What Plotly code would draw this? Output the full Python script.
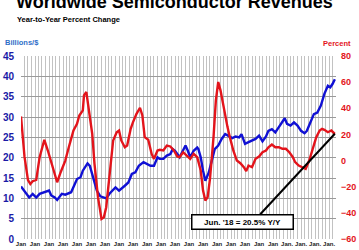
import plotly.graph_objects as go

# ---------------- data ----------------
pct_dates = ["1996-01","1996-04","1996-07","1996-09","1996-11","1997-02","1997-05","1997-09","1997-12",
             "1998-03","1998-06","1998-08","1998-11","1999-03","1999-06","1999-10","2000-01","2000-03",
             "2000-06","2000-07","2000-09","2000-11","2001-02","2001-04","2001-07","2001-10","2001-12",
             "2002-02","2002-05","2002-08","2002-11","2003-01","2003-03","2003-06","2003-08","2003-11",
             "2004-01","2004-04","2004-07","2004-09","2004-11","2005-02","2005-05","2005-07","2005-10",
             "2005-12","2006-03","2006-06","2006-09","2006-12","2007-03","2007-05","2007-08","2007-11",
             "2008-02","2008-05","2008-08","2008-11","2009-01","2009-03","2009-05","2009-07","2009-10",
             "2009-12","2010-02","2010-04","2010-07","2010-10","2010-12","2011-03","2011-06","2011-09",
             "2011-12","2012-02","2012-04","2012-07","2012-10","2013-01","2013-04","2013-07","2013-09",
             "2013-12","2014-03","2014-06","2014-09","2014-12","2015-03","2015-06","2015-08","2015-11",
             "2016-02","2016-05","2016-08","2016-11","2017-02","2017-05","2017-07","2017-09","2017-12",
             "2018-03","2018-06"]
pct_values = [33.8, 3, -15, -17.9, -15.8, -14.8, 2.6, 15.9, 7.7,
              -1.2, -10.2, -16.6, -8.9, 0, 10.2, 23, 28.1, 34.5,
              38.4, 49.9, 52.4, 38.4, 20.5, -2.5, -28, -44.7, -43.4,
              -35.7, -10.2, 15.4, 21.7, 23, 15.4, 10.2, 11.5, 24.3,
              29.4, 35.8, 40.4, 34.5, 17.9, 15.9, 5.1, 1.3, 7.7,
              8.2, 7.7, 11.5, 10.8, 7.7, 3.1, 2.6, 6.4, 3.9,
              1.3, 5.1, 2.6, -7.6, -23, -30.6, -28, -14, 17.9,
              46, 60.1, 53.7, 38.4, 25.6, 17.9, 7.7, 0, -2,
              -5.1, -8.1, -3.8, -5.1, 1.3, 3.1, 6.4, 7.7, 10.2,
              12.3, 10.2, 10.2, 9, 9, 6.4, 2.6, -1.2, -3.8,
              -5.1, -6.4, 0, 9, 17.9, 23, 24.3, 23.5, 21.7,
              23, 20.5]

rev_dates = ["1996-01","1996-05","1996-08","1996-11","1997-02","1997-05","1997-09","1998-01","1998-03",
             "1998-06","1998-08","1998-12","1999-03","1999-05","1999-08","2000-01","2000-04","2000-06",
             "2000-10","2000-12","2001-03","2001-06","2001-09","2001-12","2002-02","2002-05","2002-10",
             "2003-01","2003-03","2003-06","2003-09","2003-12","2004-03","2004-06","2004-10","2005-01",
             "2005-04","2005-07","2005-10","2005-12","2006-03","2006-06","2006-09","2006-11","2007-01",
             "2007-05","2007-07","2007-10","2007-12","2008-02","2008-05","2008-08","2008-09","2008-11",
             "2009-01","2009-03","2009-06","2009-09","2009-11","2010-02","2010-05","2010-08","2010-11",
             "2011-02","2011-05","2011-08","2011-10","2012-01","2012-04","2012-07","2012-10","2013-01",
             "2013-04","2013-07","2013-09","2013-12","2014-03","2014-06","2014-09","2014-11","2015-01",
             "2015-04","2015-07","2015-10","2016-01","2016-04","2016-06","2016-09","2016-12","2017-03",
             "2017-06","2017-09","2017-12","2018-02","2018-04","2018-06"]
rev_values = [12.9, 11.5, 10.2, 11.1, 10.2, 11.1, 11.5, 11.9, 10.7,
              10.2, 9.6, 11.1, 10.9, 11.1, 11.5, 14.75, 15.2, 16.8,
              18.6, 18.0, 15.2, 11.9, 10.5, 10.2, 10.0, 11.2, 12.7,
              11.9, 12.3, 13.1, 13.9, 16.0, 16.4, 18.0, 18.9, 18.4,
              18.0, 18.0, 20.1, 19.7, 19.7, 20.5, 20.9, 22.1, 21.7,
              20.1, 21.3, 23.0, 21.7, 20.1, 21.7, 22.5, 22.1, 20.1,
              16.8, 14.3, 16.4, 19.7, 22.1, 23.0, 24.6, 25.8, 25.2,
              24.8, 25.2, 25.0, 25.8, 23.4, 23.8, 24.2, 24.6, 25.4,
              24.0, 25.2, 26.6, 27.0, 26.2, 27.5, 28.7, 29.7, 28.3,
              27.9, 28.7, 27.9, 26.6, 26.0, 26.6, 28.7, 30.7, 31.1,
              32.8, 35.7, 37.7, 37.3, 38.1, 39.3]

years = list(range(1996, 2019))
year_labels = ["Jan"] * 19 + ["Jan."] * 4
callout_text = "Jun. '18 = 20.5% Y/Y"

# ---------------- styling ----------------
RED = "#e3141b"
BLUE = "#1010d4"
FONT = "Liberation Sans, Arial, sans-serif"

tickvals, ticktext = [], []
for yr, lab in zip(years, year_labels):
    for q, mon in enumerate(["01", "04", "07", "10"]):
        tickvals.append(f"{yr}-{mon}-01")
        ticktext.append(lab if q == 0 else "")

fig = go.Figure()
fig.add_trace(go.Scatter(x=pct_dates, y=pct_values, yaxis="y2", mode="lines",
                         line=dict(color=RED, width=2.4), showlegend=False, hoverinfo="skip"))
fig.add_trace(go.Scatter(x=rev_dates, y=rev_values, mode="lines",
                         line=dict(color=BLUE, width=2.4), showlegend=False, hoverinfo="skip"))

fig.update_layout(
    width=359, height=250,
    margin=dict(l=21, r=23, t=56, b=11, pad=0),
    paper_bgcolor="white", plot_bgcolor="white",
    font=dict(family=FONT),
    xaxis=dict(type="date", range=["1996-01-01", "2018-07-01"], tickmode="array",
               tickvals=tickvals, ticktext=ticktext, tickangle=0,
               showgrid=True, gridcolor="#c2c2c2", gridwidth=1, zeroline=False,
               ticks="", automargin=False, showline=False,
               tickfont=dict(size=6, color="#222222", family=FONT, weight="bold")),
    yaxis=dict(range=[0, 45], dtick=5, showgrid=True, gridcolor="#9a9a9a", gridwidth=1,
               zeroline=False, ticks="", automargin=False, ticklabelstandoff=6,
               tickfont=dict(size=10, color="#1a1aa6", family=FONT, weight="bold")),
    yaxis2=dict(range=[-60, 80], dtick=20, overlaying="y", side="right", showgrid=False,
                zeroline=False, ticks="", automargin=False, ticklabelstandoff=4,
                tickfont=dict(size=9, color=RED, family=FONT, weight="bold")),
)

ann = []
ann.append(dict(text="Worldwide Semiconductor Revenues", xref="paper", yref="paper",
                x=-0.022, y=1.294, xanchor="left", yanchor="middle", showarrow=False,
                font=dict(size=18, color="black", family=FONT, weight="bold")))
ann.append(dict(text="Year-to-Year Percent Change", xref="paper", yref="paper",
                x=-0.019, y=1.202, xanchor="left", yanchor="middle", showarrow=False,
                font=dict(size=7.5, color="black", family=FONT, weight="bold")))
ann.append(dict(text="Billions/$", xref="paper", yref="paper",
                x=-0.057, y=1.074, xanchor="left", yanchor="middle", showarrow=False,
                font=dict(size=7.5, color="#2f6fc8", family=FONT, weight="bold")))
ann.append(dict(text="Percent", xref="paper", yref="paper",
                x=1.053, y=1.066, xanchor="right", yanchor="middle", showarrow=False,
                font=dict(size=7.5, color=RED, family=FONT, weight="bold")))
# leader line from the callout box to the last percent point
ann.append(dict(text="", x=pct_dates[-1], y=pct_values[-1], xref="x", yref="y2",
                showarrow=True, arrowhead=0, arrowwidth=2, arrowcolor="black",
                ax=-76, ay=82, standoff=0, startstandoff=0))
ann.append(dict(text=callout_text, xref="paper", yref="paper", x=0.7016, y=0.0907,
                xanchor="center", yanchor="middle", showarrow=False,
                width=98, height=11, bgcolor="white", bordercolor="black", borderwidth=1.5,
                borderpad=1, font=dict(size=8, color="black", family=FONT, weight="bold")))
fig.update_layout(annotations=ann)

fig.write_html("out.html")
